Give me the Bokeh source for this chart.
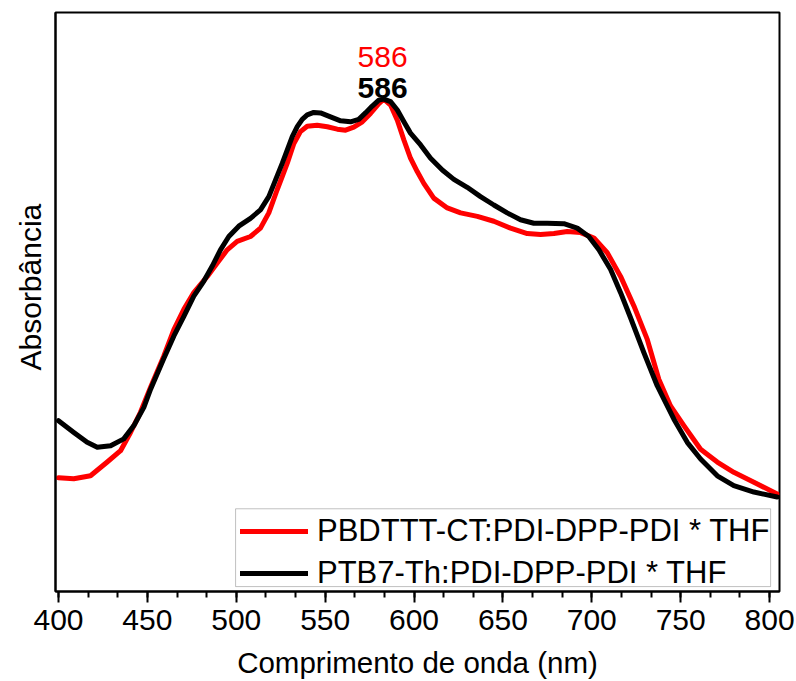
from bokeh.plotting import figure
from bokeh.models import (Range1d, SingleIntervalTicker, FixedTicker, Label, Legend,
                          LegendItem, Title, BoxAnnotation)
from bokeh.embed import file_html
from bokeh.resources import INLINE

# Wavelength (nm) and absorbance (a.u., normalised to the 586 nm peak)
red_nm = [400.0, 408.6, 418.0, 427.4, 434.9, 440.5, 446.1, 451.8, 459.2, 464.9,
          470.5, 476.1, 483.7, 489.3, 494.9, 500.5, 508.0, 513.6, 518.3, 523.0,
          525.9, 528.7, 532.4, 536.1, 539.9, 545.5, 551.2, 556.8, 561.5, 566.1,
          570.9, 575.5, 580.2, 583.0, 586.8, 590.6, 594.3, 598.0, 601.8, 605.5,
          611.1, 618.7, 626.2, 635.6, 644.9, 654.3, 663.7, 671.2, 678.7, 686.2,
          693.7, 701.2, 708.7, 716.2, 723.7, 731.2, 737.7, 744.3, 751.8, 761.2,
          770.6, 779.9, 791.2, 804.3]
red_abs = [0.231, 0.229, 0.235, 0.263, 0.286, 0.323, 0.364, 0.415, 0.478, 0.532,
           0.573, 0.607, 0.640, 0.667, 0.694, 0.711, 0.721, 0.738, 0.769, 0.816,
           0.843, 0.870, 0.910, 0.934, 0.945, 0.947, 0.944, 0.939, 0.937, 0.943,
           0.954, 0.971, 0.991, 1.000, 0.988, 0.957, 0.917, 0.880, 0.853, 0.829,
           0.799, 0.779, 0.769, 0.762, 0.752, 0.738, 0.727, 0.725, 0.727, 0.731,
           0.729, 0.718, 0.688, 0.640, 0.580, 0.512, 0.431, 0.377, 0.337, 0.289,
           0.263, 0.242, 0.222, 0.198]

black_nm = [400.0, 408.6, 416.1, 421.8, 429.3, 436.7, 442.4, 448.0, 451.8, 459.1,
            464.9, 470.5, 476.1, 481.7, 486.5, 491.1, 495.8, 501.4, 508.0, 513.6,
            518.3, 522.1, 525.9, 528.7, 531.5, 534.3, 537.1, 539.9, 543.6, 547.4,
            553.0, 558.7, 564.3, 568.9, 572.7, 576.5, 580.2, 583.0, 586.8, 590.6,
            594.3, 598.0, 603.7, 609.3, 615.9, 622.4, 629.9, 637.4, 644.9, 652.4,
            659.9, 667.4, 674.9, 684.3, 691.8, 698.3, 704.0, 710.6, 716.2, 721.8,
            729.3, 736.8, 740.5, 746.2, 753.7, 761.2, 770.6, 779.9, 791.2, 804.3]
black_abs = [0.347, 0.323, 0.303, 0.293, 0.296, 0.310, 0.337, 0.374, 0.411, 0.472,
             0.519, 0.559, 0.600, 0.630, 0.661, 0.694, 0.721, 0.742, 0.758, 0.775,
             0.802, 0.836, 0.870, 0.897, 0.924, 0.944, 0.959, 0.968, 0.973, 0.972,
             0.964, 0.956, 0.954, 0.959, 0.972, 0.986, 0.998, 1.000, 0.995, 0.978,
             0.954, 0.931, 0.907, 0.880, 0.856, 0.837, 0.821, 0.802, 0.785, 0.769,
             0.755, 0.748, 0.748, 0.747, 0.738, 0.721, 0.694, 0.654, 0.607, 0.556,
             0.485, 0.418, 0.391, 0.350, 0.303, 0.269, 0.235, 0.215, 0.202, 0.192]

series_labels = ["PBDTTT-CT:PDI-DPP-PDI * THF", "PTB7-Th:PDI-DPP-PDI * THF"]
x_title = "Comprimento de onda (nm)"
y_title = "Absorbância"
peak_label = "586"

# annotation anchors (data units)
peak_nm = 582.3
red_peak_y = 1.085
black_peak_y = 1.022
legend_box = dict(left=499.6, right=800.6, bottom=0.010, top=0.168)

FONT = "Liberation Sans"
FS = "30px"

p = figure(width=796, height=681, output_backend="svg", toolbar_location=None,
           x_range=Range1d(398.3, 805.6), y_range=Range1d(0, 1.176),
           min_border_left=55, min_border_right=17, min_border_top=12, min_border_bottom=88)
p.background_fill_color = "white"
p.border_fill_color = "white"
p.grid.visible = False
p.outline_line_color = "black"
p.outline_line_width = 2

r1 = p.line(red_nm, red_abs, line_color="#ff0000", line_width=5, line_join="round", line_cap="round")
r2 = p.line(black_nm, black_abs, line_color="#000000", line_width=5, line_join="round", line_cap="round")

xa = p.xaxis[0]
xa.ticker = SingleIntervalTicker(interval=50, num_minor_ticks=3)
xa.axis_label = x_title
xa.axis_label_text_font = FONT
xa.axis_label_text_font_size = "29.5px"
xa.axis_label_text_font_style = "normal"
xa.axis_label_text_color = "black"
xa.axis_label_standoff = 13
xa.major_label_text_font = FONT
xa.major_label_text_font_size = FS
xa.major_label_text_color = "black"
xa.major_label_standoff = 7
xa.major_tick_out = 11
xa.major_tick_in = 0
xa.minor_tick_out = 6
xa.minor_tick_in = 0
xa.axis_line_width = 2
xa.major_tick_line_width = 2
xa.minor_tick_line_width = 2
xa.axis_line_color = "black"
xa.major_tick_line_color = "black"
xa.minor_tick_line_color = "black"

ya = p.yaxis[0]
ya.ticker = FixedTicker(ticks=[])
ya.axis_line_width = 2
ya.axis_line_color = "black"
ya.major_tick_line_color = None
ya.minor_tick_line_color = None
ya.major_tick_out = 0
ya.major_label_standoff = 0

ytitle = Title(text=y_title, align="left", offset=221, text_font=FONT,
               text_font_size=FS, text_font_style="normal", text_color="black",
               standoff=18)
p.add_layout(ytitle, "left")

p.add_layout(Label(x=peak_nm, y=red_peak_y, text=peak_label, text_color="#ff0000",
                   text_font=FONT, text_font_size=FS, text_align="center",
                   text_baseline="alphabetic"))
p.add_layout(Label(x=peak_nm, y=black_peak_y, text=peak_label, text_color="#000000",
                   text_font=FONT, text_font_size=FS, text_font_style="bold",
                   text_align="center", text_baseline="alphabetic"))

p.add_layout(BoxAnnotation(fill_color="white", fill_alpha=1.0, line_color="#333333",
                           line_width=1, **legend_box))

legend = Legend(items=[LegendItem(label=series_labels[0], renderers=[r1]),
                       LegendItem(label=series_labels[1], renderers=[r2])],
                location=(185, 0))
legend.label_text_font = FONT
legend.label_text_font_size = "31px"
legend.label_text_color = "black"
legend.glyph_width = 68
legend.glyph_height = 36
legend.label_height = 36
legend.label_standoff = 9
legend.spacing = 6
legend.padding = 0
legend.margin = 0
legend.border_line_color = None
legend.background_fill_alpha = 0
p.add_layout(legend)

open("out.html", "w").write(file_html(p, INLINE))
